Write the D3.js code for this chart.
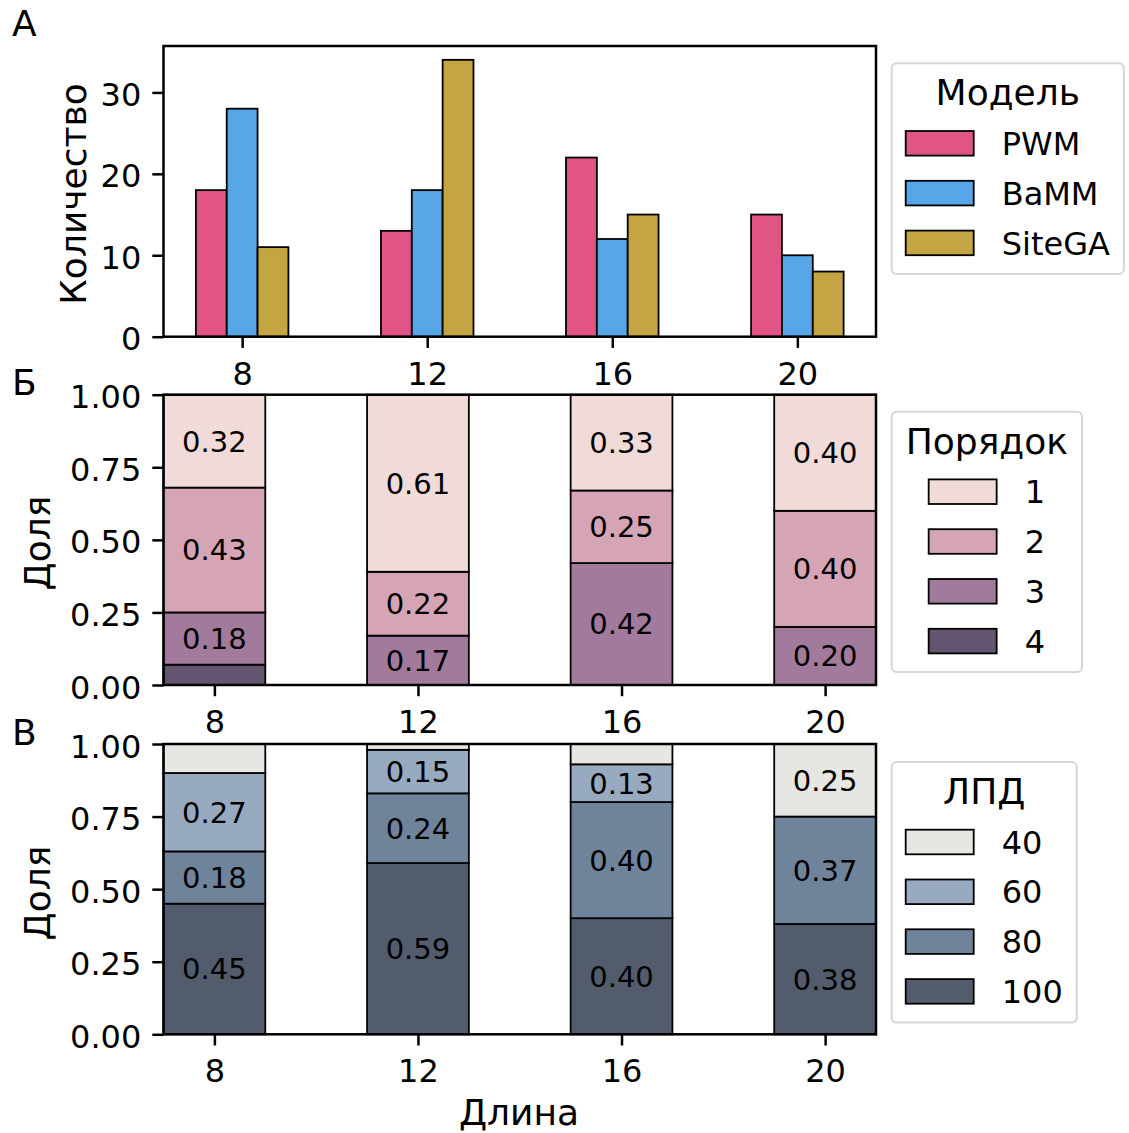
<!DOCTYPE html>
<html>
<head>
<meta charset="utf-8">
<script src="https://cdn.jsdelivr.net/npm/d3@7"></script>
<style>
  html, body { margin: 0; padding: 0; background: #ffffff; }
  svg { display: block; }
</style>
</head>
<body>
<script>
// ---- data ----
const lengths = ["8", "12", "16", "20"];

const models = ["PWM", "BaMM", "SiteGA"];
const countPWM = [18, 13, 22, 15];
const countBaMM = [28, 18, 12, 10];
const countSiteGA = [11, 34, 15, 8];
const countTicks = [0, 10, 20, 30];

const orderLevels = ["1", "2", "3", "4"];
const order1 = [0.32, 0.61, 0.33, 0.40];
const order2 = [0.43, 0.22, 0.25, 0.40];
const order3 = [0.18, 0.17, 0.42, 0.20];
const order4 = [0.07, 0.00, 0.00, 0.00];

const lpdLevels = ["40", "60", "80", "100"];
const lpd40 = [0.10, 0.02, 0.07, 0.25];
const lpd60 = [0.27, 0.15, 0.13, 0.00];
const lpd80 = [0.18, 0.24, 0.40, 0.37];
const lpd100 = [0.45, 0.59, 0.40, 0.38];

const shareTicks = [0, 0.25, 0.5, 0.75, 1];

// ---- styling ----
const modelColors = ["#e05586", "#56a6e8", "#c4a443"];
const orderColors = ["#f0dbd8", "#d6a5b5", "#a27a9b", "#63546f"];
const lpdColors = ["#e6e6e3", "#98aabf", "#6f849b", "#535c6d"];

const FONT = "DejaVu Sans, Liberation Sans, sans-serif";
const TICK_FS = 32, LABEL_FS = 36, VALUE_FS = 29;
const SPINE_W = 2.5, EDGE_W = 1.8, TICK_LEN = 11.2;

const W = 1129, H = 1133;
const L = 163.5, R = 876;

const svg = d3.select("body").append("svg")
  .attr("width", W).attr("height", H)
  .style("font-family", FONT);

// ---- shared axis drawing ----
function drawAxes(x, y, top, bottom, yTicks, yFmt) {
  const gx = svg.append("g")
    .attr("transform", `translate(0,${bottom})`)
    .call(d3.axisBottom(x).tickValues(d3.range(lengths.length))
      .tickFormat(i => lengths[i]).tickSize(TICK_LEN).tickPadding(14).tickSizeOuter(0));
  const gy = svg.append("g")
    .attr("transform", `translate(${L},0)`)
    .call(d3.axisLeft(y).tickValues(yTicks).tickFormat(yFmt)
      .tickSize(TICK_LEN).tickPadding(11).tickSizeOuter(0));
  [gx, gy].forEach(g => {
    g.attr("font-family", FONT).attr("font-size", TICK_FS);
    g.select(".domain").remove();
    g.selectAll(".tick line").attr("stroke", "#000").attr("stroke-width", SPINE_W);
    g.selectAll(".tick text").attr("fill", "#000");
  });
  gy.selectAll(".tick text").attr("dy", "0.41em");
  return () => svg.append("rect")
    .attr("x", L).attr("y", top).attr("width", R - L).attr("height", bottom - top)
    .attr("fill", "none").attr("stroke", "#000").attr("stroke-width", SPINE_W);
}

function yLabel(text, xBase, yMid) {
  svg.append("text")
    .attr("transform", `translate(${xBase},${yMid}) rotate(-90)`)
    .attr("text-anchor", "middle")
    .attr("font-size", LABEL_FS)
    .attr("fill", "#000")
    .text(text);
}

function panelLetter(text, x, y) {
  svg.append("text").attr("x", x).attr("y", y)
    .attr("font-size", LABEL_FS).attr("fill", "#000").text(text);
}

function legend(x0, top, title, items, colors) {
  const g = svg.append("g");
  const box = g.append("rect");
  const t = g.append("text").attr("font-size", LABEL_FS).attr("fill", "#000")
    .attr("text-anchor", "middle").text(title);
  const titleW = t.node().getComputedTextLength();
  const labels = items.map(s => g.append("text").attr("font-size", TICK_FS).attr("fill", "#000").text(s));
  const maxLab = d3.max(labels, l => l.node().getComputedTextLength());
  const patchW = 68, gap = 28, pad = 14, rowH = 49.8;
  const blockW = patchW + gap + maxLab;
  const inner = Math.max(titleW, blockW);
  const boxW = inner + 2 * pad;
  const boxH = 80 + (items.length - 1) * rowH + 31;
  box.attr("x", x0).attr("y", top).attr("width", boxW).attr("height", boxH)
    .attr("rx", 5).attr("fill", "#fff").attr("fill-opacity", 0.8)
    .attr("stroke", "#d5d5d5").attr("stroke-width", 2);
  t.attr("x", x0 + boxW / 2).attr("y", top + 42);
  const bx = x0 + pad + (inner - blockW) / 2;
  items.forEach((s, i) => {
    const cy = top + 80 + i * rowH;
    g.append("rect").attr("x", bx).attr("y", cy - 12.3).attr("width", patchW).attr("height", 24.6)
      .attr("fill", colors[i]).attr("stroke", "#000").attr("stroke-width", EDGE_W);
    labels[i].attr("x", bx + patchW + gap).attr("y", cy + 11.6);
  });
}

// ---- panel А: grouped counts ----
{
  const top = 46, bottom = 336.7;
  const x = d3.scaleLinear().domain([-0.425, 3.425]).range([L, R]);
  const y = d3.scaleLinear().domain([0, 35.7]).range([bottom, top]);
  const frame = drawAxes(x, y, top, bottom, countTicks, d3.format("d"));
  const series = [countPWM, countBaMM, countSiteGA];
  const bw = 1 / 6;
  series.forEach((vals, j) => {
    svg.append("g").selectAll("rect").data(vals).join("rect")
      .attr("x", (d, i) => x(i + (j - 1) * bw - bw / 2))
      .attr("width", x(bw) - x(0))
      .attr("y", d => y(d))
      .attr("height", d => y(0) - y(d))
      .attr("fill", modelColors[j])
      .attr("stroke", "#000").attr("stroke-width", EDGE_W);
  });
  frame();
  yLabel("Количество", 86, 194);
  panelLetter("А", 12, 36);
  legend(891.7, 63.3, "Модель", models, modelColors);
}

// ---- stacked share panels ----
function stackedPanel(top, bottom, levels, arrays, colors) {
  const x = d3.scaleLinear().domain([-0.25, 3.25]).range([L, R]);
  const y = d3.scaleLinear().domain([0, 1]).range([bottom, top]);
  const frame = drawAxes(x, y, top, bottom, shareTicks, d3.format(".2f"));
  const table = lengths.map((len, i) => {
    const row = { idx: i };
    levels.forEach((k, j) => { row[k] = arrays[j][i]; });
    return row;
  });
  // highest level sits at the bottom of each bar
  const keys = levels.slice().reverse();
  const stacked = d3.stack().keys(keys)(table);
  const bw = 0.5;
  stacked.forEach(layer => {
    const ci = levels.indexOf(layer.key);
    const g = svg.append("g");
    g.selectAll("rect").data(layer.filter(d => d[1] - d[0] > 0)).join("rect")
      .attr("x", d => x(d.data.idx - bw / 2))
      .attr("width", x(bw) - x(0))
      .attr("y", d => y(d[1]))
      .attr("height", d => y(d[0]) - y(d[1]))
      .attr("fill", colors[ci])
      .attr("stroke", "#000").attr("stroke-width", EDGE_W);
    g.selectAll("text").data(layer.filter(d => d[1] - d[0] > 0.1 + 1e-9)).join("text")
      .attr("x", d => x(d.data.idx))
      .attr("y", d => y((d[0] + d[1]) / 2))
      .attr("dy", "0.36em")
      .attr("text-anchor", "middle")
      .attr("font-size", VALUE_FS)
      .attr("fill", "#000")
      .text(d => (d[1] - d[0]).toFixed(2));
  });
  frame();
}

// ---- panel Б: order ----
stackedPanel(394.7, 685, orderLevels, [order1, order2, order3, order4], orderColors);
yLabel("Доля", 50, 543);
panelLetter("Б", 12, 395);
legend(891.7, 411.7, "Порядок", orderLevels, orderColors);

// ---- panel В: ЛПД ----
stackedPanel(744, 1034.3, lpdLevels, [lpd40, lpd60, lpd80, lpd100], lpdColors);
yLabel("Доля", 50, 893);
panelLetter("В", 12, 745);
legend(891.7, 762, "ЛПД", lpdLevels, lpdColors);

svg.append("text")
  .attr("x", 519).attr("y", 1125)
  .attr("text-anchor", "middle")
  .attr("font-size", LABEL_FS).attr("fill", "#000")
  .text("Длина");
</script>
</body>
</html>
